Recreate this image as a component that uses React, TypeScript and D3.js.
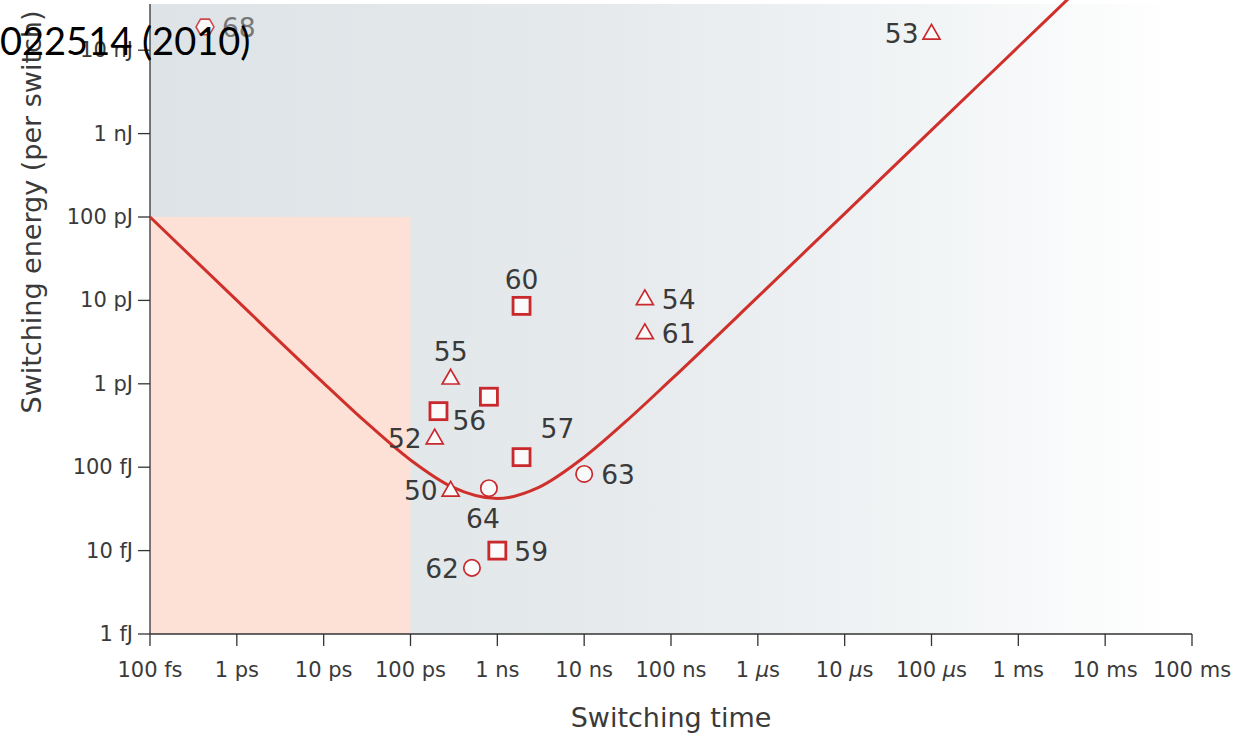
import React from "react";
import * as d3 from "d3";

// Switching time (s) / energy (J) tick values and labels
const xTickValues = [1e-13, 1e-12, 1e-11, 1e-10, 1e-9, 1e-8, 1e-7, 1e-6, 1e-5, 1e-4, 1e-3, 1e-2, 1e-1];
const xTickNums = ["100", "1", "10", "100", "1", "10", "100", "1", "10", "100", "1", "10", "100"];
const xTickUnits = ["fs", "ps", "ps", "ps", "ns", "ns", "ns", "μs", "μs", "μs", "ms", "ms", "ms"];

const yTickValues = [1e-15, 1e-14, 1e-13, 1e-12, 1e-11, 1e-10, 1e-9, 1e-8];
const yTickLabels = ["1 fJ", "10 fJ", "100 fJ", "1 pJ", "10 pJ", "100 pJ", "1 nJ", "10 nJ"];

// Lower-bound curve
const curveTimes = [1e-13, 1e-12, 1e-11, 3e-11, 1e-10, 3e-10, 1e-9, 3e-9, 1e-8, 3e-8, 1e-7, 1e-6, 1e-5, 1e-4, 1e-3, 6e-3];
const curveEnergies = [1e-10, 1e-11, 1.02e-12, 3.54e-13, 1.22e-13, 5.8e-14, 4.2e-14, 5.73e-14, 1.32e-13, 3.51e-13, 1.12e-12, 1.1e-11, 1.1e-10, 1.1e-9, 1.1e-8, 6.6e-8];

// Reported devices
const deviceRefs = ["68", "53", "60", "54", "61", "55", "56", "", "52", "57", "50", "64", "63", "59", "62"];
const deviceTimes = [4.3e-13, 1.0e-4, 1.9e-9, 5e-8, 5e-8, 2.9e-10, 2.1e-10, 8e-10, 1.9e-10, 1.9e-9, 2.9e-10, 8e-10, 1e-8, 1e-9, 5.1e-10];
const deviceEnergies = [1.9e-8, 1.6e-8, 8.6e-12, 1.05e-11, 4.1e-12, 1.17e-12, 4.7e-13, 7e-13, 2.24e-13, 1.32e-13, 5.3e-14, 5.6e-14, 8.3e-14, 1e-14, 6.2e-15];
const deviceShapes = ["hex", "tri", "sq", "tri", "tri", "tri", "sq", "sq", "tri", "sq", "tri", "circ", "circ", "sq", "circ"];
const labelPlacement = ["right", "left", "above", "right", "right", "above", "belowRight", "none", "left", "aboveRight", "left", "below", "right", "right", "left"];

const W = 1249;
const H = 736;
const margin = { left: 150, right: 1192, top: 4, bottom: 634 };

const RED = "#c9282d";
const TEXT = "#3a3a3a";
const FONT = "'DejaVu Sans', 'Open Sans', sans-serif";

export default function App() {
  const x = d3.scaleLog().domain([1e-13, 1e-1]).range([margin.left, margin.right]);
  const y = d3.scaleLog().domain([1e-15, 10 ** -7.398]).range([margin.bottom, 0]);

  const line = d3
    .line<number>()
    .x((_, i) => x(curveTimes[i]))
    .y((_, i) => y(curveEnergies[i]))
    .curve(d3.curveMonotoneX);
  const curvePath = line(curveTimes) || "";

  const tri = d3.symbol().type(d3.symbolTriangle).size(125)() || "";

  const marker = (shape: string, cx: number, cy: number, key: number) => {
    if (shape === "sq") {
      return <rect key={key} x={cx - 8.5} y={cy - 8.5} width={17} height={17} fill="#fafafa" stroke={RED} strokeWidth={2.8} />;
    }
    if (shape === "tri") {
      return <path key={key} d={tri} transform={`translate(${cx},${cy + 1})`} fill="#fafafa" stroke={RED} strokeWidth={1.7} />;
    }
    if (shape === "circ") {
      return <circle key={key} cx={cx} cy={cy} r={8.2} fill="#fafafa" stroke={RED} strokeWidth={1.7} />;
    }
    const hex = d3.range(6).map((k) => {
      const a = (Math.PI / 3) * k;
      return [cx + 9 * Math.cos(a), cy + 9 * Math.sin(a)];
    });
    return <polygon key={key} points={hex.map((p) => p.join(",")).join(" ")} fill="#fafafa" stroke="#d0484c" strokeWidth={1.6} />;
  };

  const labelPos = (place: string, cx: number, cy: number): [number, number, string] => {
    switch (place) {
      case "right":
        return [cx + 17, cy + 10, "start"];
      case "left":
        return [cx - 13, cy + 10, "end"];
      case "above":
        return [cx, cy - 17, "middle"];
      case "below":
        return [cx - 6, cy + 40, "middle"];
      case "belowRight":
        return [cx + 14, cy + 19, "start"];
      case "aboveRight":
        return [cx + 19, cy - 19, "start"];
      default:
        return [cx, cy, "middle"];
    }
  };

  return (
    <svg width={W} height={H} style={{ display: "block", position: "absolute", left: 0, top: 0 }}>
      <defs>
        <linearGradient id="bgfade" x1={margin.left} x2={1175} y1={0} y2={0} gradientUnits="userSpaceOnUse">
          <stop offset="0" stopColor="#dde3e6" />
          <stop offset="0.45" stopColor="#e6eaed" />
          <stop offset="0.75" stopColor="#f1f4f5" />
          <stop offset="1" stopColor="#ffffff" />
        </linearGradient>
        <clipPath id="plotclip">
          <rect x={margin.left} y={0} width={margin.right - margin.left} height={margin.bottom} />
        </clipPath>
      </defs>
      <rect x={0} y={0} width={W} height={H} fill="#ffffff" />
      <rect x={margin.left} y={margin.top} width={margin.right - margin.left} height={margin.bottom - margin.top} fill="url(#bgfade)" />
      {/* sub-100 ps, sub-100 pJ region */}
      <rect
        x={x(1e-13)}
        y={y(1e-10)}
        width={x(1e-10) - x(1e-13)}
        height={y(1e-15) - y(1e-10)}
        fill="#fde1d7"
      />

      {/* axes */}
      <line x1={margin.left} x2={margin.left} y1={margin.top} y2={margin.bottom} stroke="#333" strokeWidth={1.3} />
      <line x1={margin.left} x2={margin.right} y1={margin.bottom} y2={margin.bottom} stroke="#333" strokeWidth={1.3} />
      {yTickValues.map((v, i) => (
        <g key={`yt${i}`}>
          <line x1={margin.left - 12} x2={margin.left} y1={y(v)} y2={y(v)} stroke="#333" strokeWidth={1.3} />
          <text x={margin.left - 17} y={y(v) + 7} textAnchor="end" fontFamily={FONT} fontSize={21} fill={TEXT}>
            {yTickLabels[i]}
          </text>
        </g>
      ))}
      {xTickValues.map((v, i) => (
        <g key={`xt${i}`}>
          <line x1={x(v)} x2={x(v)} y1={margin.bottom} y2={margin.bottom + 12} stroke="#333" strokeWidth={1.3} />
          <text x={x(v)} y={677} textAnchor="middle" fontFamily={FONT} fontSize={21} fill={TEXT}>
            {xTickNums[i]}{" "}
            <tspan fontStyle={xTickUnits[i] === "μs" ? "italic" : "normal"}>{xTickUnits[i].charAt(0)}</tspan>
            {xTickUnits[i].slice(1)}
          </text>
        </g>
      ))}

      <text x={671} y={727} textAnchor="middle" fontFamily={FONT} fontSize={27} fill={TEXT}>
        Switching time
      </text>
      <text
        transform={`translate(41,${212}) rotate(-90)`}
        textAnchor="middle"
        fontFamily={FONT}
        fontSize={27}
        fill={TEXT}
      >
        Switching energy (per switch)
      </text>

      {/* lower-bound curve */}
      <path d={curvePath} fill="none" stroke="#d0302b" strokeWidth={3} clipPath="url(#plotclip)" />

      {/* devices */}
      {deviceTimes.map((t, i) => {
        const cx = x(t);
        const cy = y(deviceEnergies[i]);
        return marker(deviceShapes[i], cx, cy, i);
      })}
      {deviceTimes.map((t, i) => {
        if (labelPlacement[i] === "none") return null;
        const [lx, ly, anchor] = labelPos(labelPlacement[i], x(t), y(deviceEnergies[i]));
        return (
          <text
            key={`lb${i}`}
            x={lx}
            y={ly}
            textAnchor={anchor}
            fontFamily={FONT}
            fontSize={26.5}
            fill={i === 0 ? "#777" : TEXT}
          >
            {deviceRefs[i]}
          </text>
        );
      })}

      {/* strip across the top edge */}
      <rect x={margin.left} y={0} width={585 - margin.left} height={4} fill="#ffffff" />

      <text x={0} y={55} fontFamily="Lato, 'Liberation Sans', sans-serif" fontSize={38} fill="#000">
        022514 (2010)
      </text>
    </svg>
  );
}
